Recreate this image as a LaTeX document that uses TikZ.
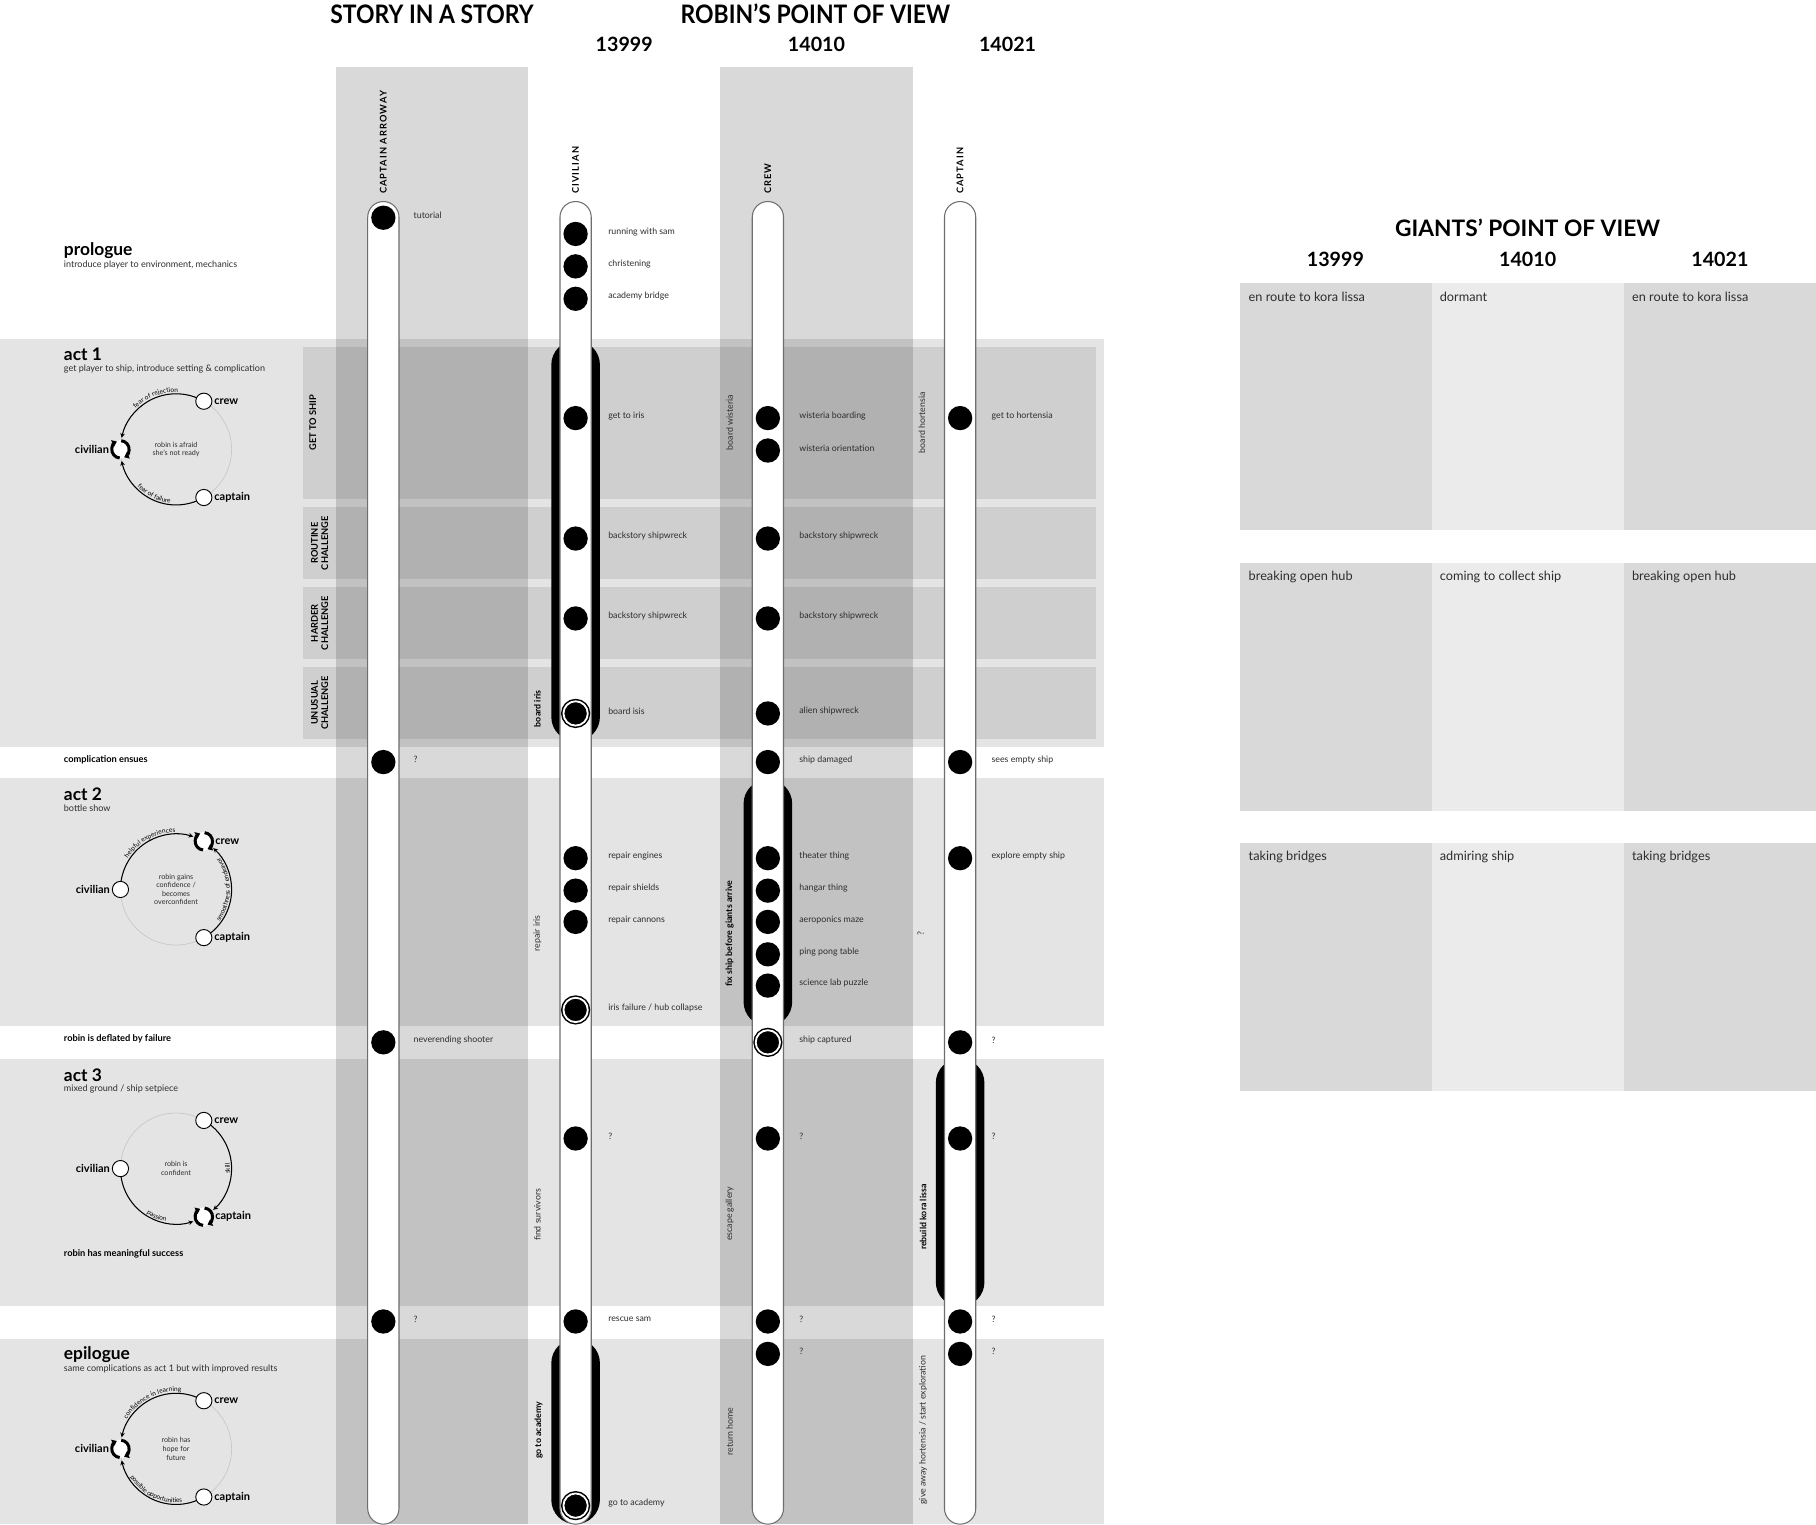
\documentclass[tikz,border=0pt]{standalone}
\usepackage{fontspec}
\setmainfont{Lato}
\usepackage{graphicx}
\usetikzlibrary{arrows.meta,decorations.text}
\definecolor{TubeEdge}{RGB}{110,110,110}
\definecolor{InkGray}{RGB}{45,45,45}
\definecolor{FaintArc}{RGB}{200,200,200}
\definecolor{GiantDark}{RGB}{217,217,217}
\definecolor{GiantLight}{RGB}{235,235,235}
\newcommand\evfont{\fontsize{7.6}{9}\selectfont}
\newcommand\arcfont{\fontsize{5.6}{6}\selectfont}
\newcommand\corefont{\fontsize{6.2}{7.4}\selectfont}
\newcommand\tagfont{\fontsize{9.5}{11}\selectfont\bfseries}
\newcommand\phasefont{\fontsize{15}{17}\selectfont\bfseries}
\newcommand\phasesubfont{\fontsize{7.8}{9}\selectfont}
\newcommand\notefont{\fontsize{8}{9}\selectfont\bfseries}
\newcommand\rowtagfont{\fontsize{8}{9}\selectfont\bfseries}
\newcommand\headfont{\fontsize{22}{24}\selectfont\bfseries}
\newcommand\numfont{\fontsize{17}{19}\selectfont\bfseries}
\newcommand\colfont{\fontsize{8}{9}\selectfont\bfseries\addfontfeature{LetterSpace=12}}
\newcommand\giantfont{\fontsize{11}{13}\selectfont}
\pgfdeclarelayer{shade}
\pgfdeclarelayer{arcs}
\pgfsetlayers{shade,arcs,main}

\begin{document}
\begin{tikzpicture}[x=1pt,y=-1pt,
  colband/.style={fill=black,fill opacity=0.15},
  actrow/.style={fill=black,fill opacity=0.105},
  subrow/.style={fill=black,fill opacity=0.09},
  tube/.style={draw=TubeEdge,fill=white,line width=0.9pt,rounded corners=13.5pt,minimum width=27pt,inner sep=0pt},
  spine/.style={fill=black,rounded corners=21pt,minimum width=42pt,inner sep=0pt},
  dot/.style={circle,fill=black,minimum size=21pt,inner sep=0pt},
  ringdot/.style={dot,draw=black,double=white,double distance=1.6pt,line width=1.3pt},
  evlabel/.style={anchor=west,font=\evfont,text=InkGray,inner sep=0pt},
  sidelabel/.style={rotate=90,font=\evfont,text=InkGray,inner sep=0pt},
  sidebold/.style={rotate=90,font=\evfont\bfseries,inner sep=0pt},
  collabel/.style={rotate=90,anchor=west,font=\colfont,inner sep=0pt},
  rowtag/.style={rotate=90,align=center,font=\rowtagfont,inner sep=0pt},
  phase/.style={anchor=west,font=\phasefont,inner sep=0pt},
  phasesub/.style={anchor=west,font=\phasesubfont,text=InkGray,inner sep=0pt},
  note/.style={anchor=west,font=\notefont,inner sep=0pt},
  bighead/.style={font=\headfont,inner sep=0pt},
  numhead/.style={font=\numfont,inner sep=0pt},
  gtext/.style={anchor=west,font=\giantfont,text=InkGray,inner sep=0pt},
  loopnode/.style={circle,draw=black,fill=white,line width=0.8pt,minimum size=14pt,inner sep=0pt},
  cyclenode/.style={circle,fill=white,minimum size=16pt,inner sep=0pt},
  looparc/.style={line width=0.9pt,-{Stealth[length=4pt,width=4pt]}},
  loopfaint/.style={FaintArc,line width=0.6pt},
  cyclearc/.style={line width=2.6pt,-{Triangle[length=4pt,width=6pt]}},
  looptag/.style={font=\tagfont,inner sep=1.5pt},
  loopcore/.style={align=center,font=\corefont,text=InkGray,inner sep=0pt},
  arctext/.style={decorate,decoration={text along path,text align=center,raise=1.5pt,text={|\arcfont|#1}}}]
\useasboundingbox (0,0) rectangle (1568,1316);

% bands, acts and challenge rows
\begin{pgfonlayer}{shade}
\foreach \x in {290,622}
  \fill[colband] (\x,58) rectangle ++(166,1258);
\foreach \a/\b in {293/645,672/886,914/1128,1156/1316}
  \fill[actrow] (0,\a) rectangle (953,\b);
\foreach \a/\b in {300/431,438/500,507/569,576/638}
  \fill[subrow] (262,\a) rectangle (946,\b);
\foreach \x/\tone in {1071/GiantDark,1236/GiantLight,1402/GiantDark}
  \foreach \y in {244,486,728}
    \fill[\tone] (\x,\y) rectangle ++(166,214);
\end{pgfonlayer}

% headers
\node[bighead] (hStory) at (373,12) {\scalebox{0.9}[1]{STORY IN A STORY}};
\node[bighead] (hRobin) at (704,12) {\scalebox{0.9}[1]{ROBIN’S POINT OF VIEW}};
\foreach \x/\t [count=\i] in {539/13999,705/14010,870/14021}
  \node[numhead] (hR\i) at (\x,38) {\t};
\node[bighead,font=\fontsize{19.6}{21}\selectfont\bfseries] (hGiant) at (1319,197) {GIANTS’ POINT OF VIEW};
\foreach \x/\t [count=\i] in {1153/13999,1319/14010,1485/14021}
  \node[numhead] (hG\i) at (\x,224) {\t};

% phases on the left
\node[phase] (pPro) at (55,216) {prologue};
\node[phasesub] (pProS) at (55,229) {introduce player to environment, mechanics};
\node[phase] (pAct1) at (55,306) {act 1};
\node[phasesub] (pAct1S) at (55,319) {get player to ship, introduce setting \& complication};
\node[note] (nComp) at (55,656) {complication ensues};
\node[phase] (pAct2) at (55,686) {act 2};
\node[phasesub] (pAct2S) at (55,698) {bottle show};
\node[note] (nDefl) at (55,897) {robin is deflated by failure};
\node[phase] (pAct3) at (55,928) {act 3};
\node[phasesub] (pAct3S) at (55,940) {mixed ground / ship setpiece};
\node[note] (nSucc) at (55,1083) {robin has meaningful success};
\node[phase] (pEpi) at (55,1170) {epilogue};
\node[phasesub] (pEpiS) at (55,1182) {same complications as act 1 but with improved results};

\node[rowtag] (rGet) at (270,365) {GET TO SHIP};
\node[rowtag] (rRou) at (276,469) {ROUTINE\\CHALLENGE};
\node[rowtag] (rHar) at (276,538) {HARDER\\CHALLENGE};
\node[rowtag] (rUnu) at (276,607) {UNUSUAL\\CHALLENGE};

% act 1 loop
\coordinate (L1) at (152,388);
\node[loopnode] (L1crew) at ([shift={(-60:48)}]L1) {};
\node[loopnode] (L1capt) at ([shift={(60:48)}]L1) {};
\node[cyclenode] (L1civ) at ([shift={(180:48)}]L1) {};
\begin{pgfonlayer}{arcs}
\draw[loopfaint] (L1) circle[radius=48];
\draw[looparc] (L1crew.center) arc[start angle=-60,end angle=-168,radius=48];
\draw[looparc] (L1capt.center) arc[start angle=60,end angle=168,radius=48];
\end{pgfonlayer}
\path[arctext=fear of rejection] ([shift={(-155:48)}]L1) arc[start angle=-155,end angle=-68,radius=48];
\path[arctext=fear of failure] ([shift={(160:48)}]L1) arc[start angle=160,end angle=72,radius=48];
\node[loopcore] (L1core) at (L1) {robin is afraid\\she's not ready};

% act 2 loop
\coordinate (L2) at (152,768);
\node[cyclenode] (L2crew) at ([shift={(-60:48)}]L2) {};
\node[loopnode] (L2capt) at ([shift={(60:48)}]L2) {};
\node[loopnode] (L2civ) at ([shift={(180:48)}]L2) {};
\begin{pgfonlayer}{arcs}
\draw[loopfaint] (L2) circle[radius=48];
\draw[looparc] (L2civ.center) arc[start angle=-180,end angle=-72,radius=48];
\draw[looparc] (L2capt.center) arc[start angle=60,end angle=-48,radius=48];
\end{pgfonlayer}
\path[arctext=helpful experiences] ([shift={(-170:48)}]L2) arc[start angle=-170,end angle=-68,radius=48];
\path[arctext=smoothness of endeavor] ([shift={(52:48)}]L2) arc[start angle=52,end angle=-52,radius=48];
\node[loopcore] (L2core) at (L2) {robin gains\\confidence /\\becomes\\overconfident};

% act 3 loop
\coordinate (L3) at (152,1009);
\node[loopnode] (L3crew) at ([shift={(-60:48)}]L3) {};
\node[cyclenode] (L3capt) at ([shift={(60:48)}]L3) {};
\node[loopnode] (L3civ) at ([shift={(180:48)}]L3) {};
\begin{pgfonlayer}{arcs}
\draw[loopfaint] (L3) circle[radius=48];
\draw[looparc] (L3crew.center) arc[start angle=-60,end angle=48,radius=48];
\draw[looparc] (L3civ.center) arc[start angle=180,end angle=72,radius=48];
\end{pgfonlayer}
\path[arctext=skill] ([shift={(20:48)}]L3) arc[start angle=20,end angle=-20,radius=48];
\path[arctext=passion] ([shift={(150:48)}]L3) arc[start angle=150,end angle=74,radius=48];
\node[loopcore] (L3core) at (L3) {robin is\\confident};

% epilogue loop
\coordinate (L4) at (152,1251);
\node[loopnode] (L4crew) at ([shift={(-60:48)}]L4) {};
\node[loopnode] (L4capt) at ([shift={(60:48)}]L4) {};
\node[cyclenode] (L4civ) at ([shift={(180:48)}]L4) {};
\begin{pgfonlayer}{arcs}
\draw[loopfaint] (L4) circle[radius=48];
\draw[looparc] (L4crew.center) arc[start angle=-60,end angle=-168,radius=48];
\draw[looparc] (L4capt.center) arc[start angle=60,end angle=168,radius=48];
\end{pgfonlayer}
\path[arctext=confidence in learning] ([shift={(-168:48)}]L4) arc[start angle=-168,end angle=-66,radius=48];
\path[arctext=possible opportunities] ([shift={(166:48)}]L4) arc[start angle=166,end angle=66,radius=48];
\node[loopcore] (L4core) at (L4) {robin has\\hope for\\future};

\foreach \n in {L1civ,L2crew,L3capt,L4civ}{
  \draw[cyclearc] ([shift={(95:7.5)}]\n.center) arc[start angle=95,end angle=245,radius=7.5];
  \draw[cyclearc] ([shift={(275:7.5)}]\n.center) arc[start angle=275,end angle=425,radius=7.5];
}
\foreach \k in {1,2,3,4}{
  \node[looptag,anchor=west] (L\k crewT) at (L\k crew.east) {crew};
  \node[looptag,anchor=west] (L\k captT) at (L\k capt.east) {captain};
  \node[looptag,anchor=east] (L\k civT) at (L\k civ.west) {civilian};
}

% black spines, then the four timelines
\node[spine,minimum height=346pt] (sB1) at (497,467) {};
\node[spine,minimum height=213pt] (sC1) at (663,779.5) {};
\node[spine,minimum height=214pt] (sD1) at (829,1021) {};
\node[spine,minimum height=160pt] (sB2) at (497,1236) {};
\foreach \x/\n in {331/tA,497/tB,663/tC,829/tD}
  \node[tube,minimum height=1142pt] (\n) at (\x,745) {};

\node[collabel] (cA) at ([yshift=6pt]tA.north) {CAPTAIN ARROWAY};
\node[collabel] (cB) at ([yshift=6pt]tB.north) {CIVILIAN};
\node[collabel] (cC) at ([yshift=6pt]tC.north) {CREW};
\node[collabel] (cD) at ([yshift=6pt]tD.north) {CAPTAIN};

% story in a story
\foreach \y/\t/\s [count=\i] in {188/tutorial/dot,658/?/dot,900/neverending shooter/dot,1141/?/dot}{
  \node[\s] (dA\i) at (331,\y) {};
  \node[evlabel] (eA\i) at (357,\y-2) {\t};
}
% 13999 civilian
\foreach \y/\t/\s [count=\i] in {202/running with sam/dot,230/christening/dot,258/academy bridge/dot,
    361/get to iris/dot,465/backstory shipwreck/dot,534/backstory shipwreck/dot,616/board isis/ringdot,
    741/repair engines/dot,769/repair shields/dot,796/repair cannons/dot,
    872/{iris failure / hub collapse}/ringdot,983/?/dot,1141/rescue sam/dot,1300/go to academy/ringdot}{
  \node[\s] (dB\i) at (497,\y) {};
  \node[evlabel] (eB\i) at (525,\y-2) {\t};
}
% 14010 crew
\foreach \y/\t/\s [count=\i] in {361/wisteria boarding/dot,389/wisteria orientation/dot,
    465/backstory shipwreck/dot,534/backstory shipwreck/dot,616/alien shipwreck/dot,658/ship damaged/dot,
    741/theater thing/dot,769/hangar thing/dot,796/aeroponics maze/dot,824/ping pong table/dot,
    851/science lab puzzle/dot,900/ship captured/ringdot,983/?/dot,1141/?/dot,1169/?/dot}{
  \node[\s] (dC\i) at (663,\y) {};
  \node[evlabel] (eC\i) at (690,\y-2) {\t};
}
% 14021 captain
\foreach \y/\t/\s [count=\i] in {361/get to hortensia/dot,658/sees empty ship/dot,741/explore empty ship/dot,
    900/?/dot,983/?/dot,1141/?/dot,1169/?/dot}{
  \node[\s] (dD\i) at (829,\y) {};
  \node[evlabel] (eD\i) at (856,\y-2) {\t};
}

% goals beside the timelines
\node[sidelabel] (gB1) at (630,365) {board wisteria};
\node[sidelabel] (gD1) at (796,365) {board hortensia};
\node[sidebold] (gB2) at (464,612) {board iris};
\node[sidelabel] (gB3) at (464,806) {repair iris};
\node[sidebold] (gC2) at (630,806) {fix ship before giants arrive};
\node[sidelabel] (gD2) at (795,806) {?};
\node[sidelabel] (gB4) at (464,1049) {find survivors};
\node[sidelabel] (gC3) at (630,1048) {escape gallery};
\node[sidebold] (gD3) at (797,1051) {rebuild kora lissa};
\node[sidebold] (gB5) at (465,1235) {go to academy};
\node[sidelabel] (gC4) at (630,1236) {return home};
\node[sidelabel] (gD4) at (797,1235) {give away hortensia / start exploration};

% giants' point of view
\foreach \x/\y/\t [count=\i] in {1078/256/en route to kora lissa,1243/256/dormant,1409/256/en route to kora lissa,
    1078/498/breaking open hub,1243/498/coming to collect ship,1409/498/breaking open hub,
    1078/740/taking bridges,1243/740/admiring ship,1409/740/taking bridges}
  \node[gtext] (gv\i) at (\x,\y) {\t};
\end{tikzpicture}
\end{document}
